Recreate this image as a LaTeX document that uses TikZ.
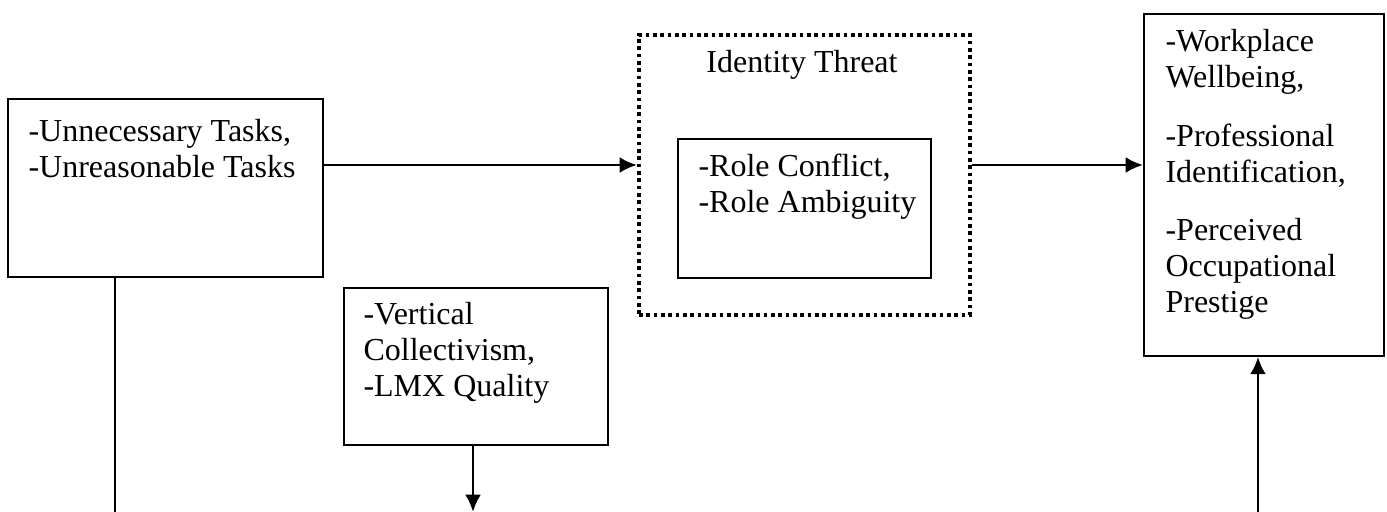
\documentclass[tikz,border=0pt]{standalone}
\usepackage{fontspec}
\setmainfont{Liberation Serif}
\usetikzlibrary{arrows.meta,positioning}

\begin{document}
\begin{tikzpicture}[x=0.375pt,y=-0.375pt,>={Latex[length=6.5pt,width=6pt]},
		box/.style={draw,line width=0.7pt,inner sep=0,anchor=north west},
		txt/.style={inner sep=0,anchor=base west,font=\fontsize{12}{13.5}\selectfont},
		link/.style={line width=1.1pt}]
		\useasboundingbox (0,0) rectangle (1387,512);
		% boxes
		\node[box,minimum width=118.1pt,minimum height=66.75pt] (tasks) at (7,98) {};
		\node[box,line width=1.4pt,dash pattern=on 1.4pt off 1.35pt,minimum width=124.1pt,minimum height=105pt] (threat) at (637,33) {};
		\node[box,minimum width=94.9pt,minimum height=52.1pt] (role) at (677,138) {};
		\node[box,minimum width=99pt,minimum height=58.9pt] (lmx) at (343,287) {};
		\node[box,minimum width=90pt,minimum height=128.25pt] (out) at (1143,13) {};
		% texts
		\node[txt] (tasksT) at (28,142) {\parbox[t]{115pt}{-Unnecessary Tasks,\\-Unreasonable Tasks}};
		\node[txt,anchor=base] (threatT) at (802,73) {Identity Threat};
		\node[txt] (roleT) at (698,177) {\parbox[t]{90pt}{-Role Conflict,\\-Role Ambiguity}};
		\node[txt] (lmxT) at (363,325) {\parbox[t]{90pt}{-Vertical\\Collectivism,\\-LMX Quality}};
		\node[txt] (outT) at (1165,52) {\parbox[t]{85pt}{-Workplace\\Wellbeing,\\[8.4pt]-Professional\\Identification,\\[8.4pt]-Perceived\\Occupational\\Prestige}};
		% connectors
		\coordinate (row) at (0,165);
		\coordinate (downA) at (115,512);
		\coordinate (downB) at (473,512);
		\coordinate (upC) at (1258,512);
		\draw[link,->] (tasks.east |- row) -- (threat.west |- row);
		\draw[link,->] (threat.east |- row) -- (out.west |- row);
		\draw[link] (downA |- tasks.south) -- (downA);
		\draw[link,->] (downB |- lmx.south) -- (downB);
		\draw[link,->] (upC) -- (upC |- out.south);
	\end{tikzpicture}
\end{document}
